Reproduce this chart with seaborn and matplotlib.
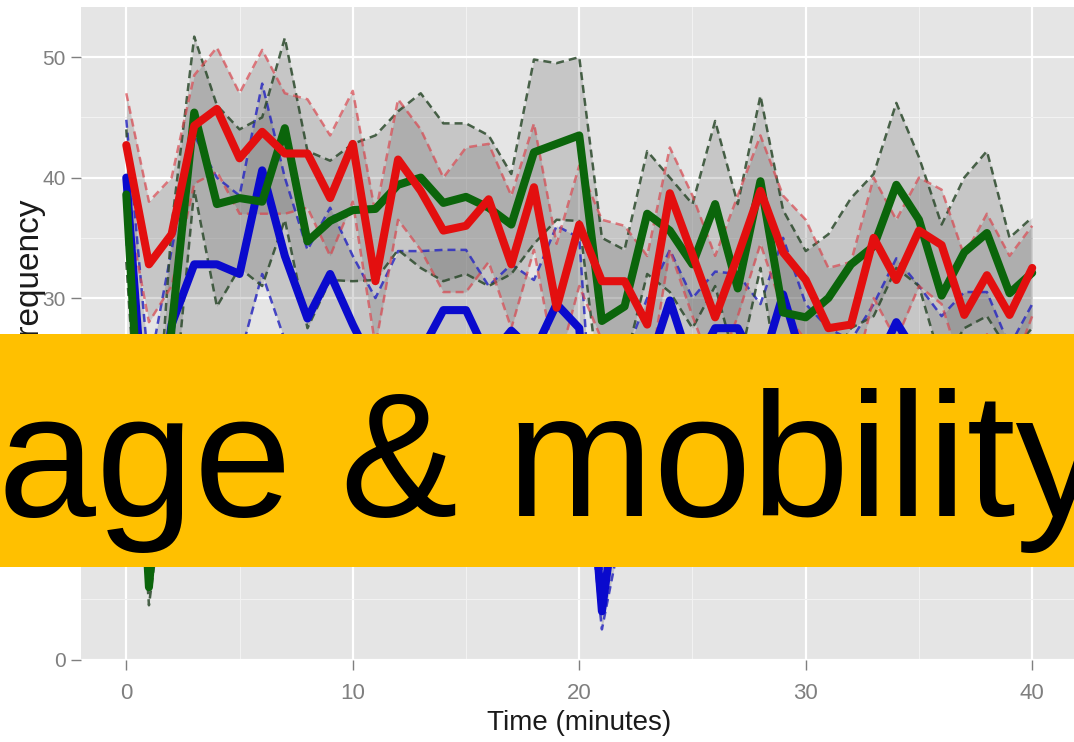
import matplotlib
matplotlib.use("Agg")
import matplotlib.pyplot as plt
import numpy as np
import pandas as pd
import seaborn as sns
from matplotlib.patches import Rectangle

# ---- data -------------------------------------------------------------
minutes = list(range(41))

blue_mean = [40.0, 15.0, 27.8, 32.8, 32.8, 32.0, 40.6, 33.5, 28.3, 32.0,
             27.8, 24.0, 23.0, 25.5, 29.0, 29.0, 25.0, 27.3, 25.5, 29.5,
             27.5, 4.0, 18.0, 24.0, 29.8, 24.0, 27.5, 27.5, 24.0, 30.3,
             24.0, 22.0, 21.0, 24.0, 28.0, 25.0, 23.0, 22.0, 24.0, 20.0,
             24.0]
blue_upper = [44.8, 24.0, 34.0, 43.5, 40.0, 38.5, 47.8, 40.0, 34.0, 37.5,
              33.5, 30.0, 33.9, 33.9, 34.0, 34.0, 31.0, 32.8, 31.5, 36.0,
              35.0, 7.5, 25.0, 30.0, 34.0, 30.0, 32.2, 32.0, 29.5, 35.0,
              29.5, 27.5, 26.5, 29.5, 33.3, 31.0, 28.5, 30.5, 30.5, 26.0,
              29.5]
blue_lower = [35.0, 8.0, 21.0, 23.0, 25.5, 25.0, 32.0, 26.5, 22.0, 26.0,
              21.5, 17.0, 17.0, 19.0, 23.5, 23.5, 19.0, 21.5, 19.5, 23.0,
              21.0, 2.5, 12.0, 18.0, 24.5, 18.0, 22.0, 22.0, 18.5, 24.5,
              18.5, 16.5, 16.0, 18.5, 22.5, 19.0, 17.5, 16.5, 18.5, 14.5,
              18.5]

green_mean = [38.6, 6.0, 27.5, 45.4, 37.8, 38.3, 38.0, 44.1, 34.7, 36.4,
              37.3, 37.4, 39.4, 40.0, 37.9, 38.4, 37.5, 36.1, 42.1, 42.8,
              43.5, 28.1, 29.3, 37.0, 35.6, 32.8, 37.8, 30.8, 39.7, 28.8,
              28.4, 30.0, 32.8, 34.3, 39.4, 36.5, 30.2, 33.8, 35.4, 30.4,
              32.1]
green_upper = [44.0, 9.0, 36.0, 51.7, 46.0, 44.0, 45.0, 51.6, 42.2, 41.4,
               42.8, 43.5, 45.5, 47.0, 44.5, 44.5, 43.5, 40.3, 49.8, 49.5,
               50.0, 35.0, 34.0, 42.2, 40.0, 37.8, 44.7, 37.8, 46.8, 37.3,
               33.9, 35.3, 38.3, 40.3, 46.2, 41.7, 36.1, 40.0, 42.2, 35.0,
               36.7]
green_lower = [33.0, 4.5, 19.0, 39.0, 29.3, 32.5, 31.0, 36.5, 27.5, 31.5,
               31.4, 31.5, 34.0, 32.5, 31.4, 32.0, 31.0, 32.0, 34.5, 36.5,
               36.4, 21.0, 24.5, 32.0, 30.5, 27.5, 31.0, 24.0, 32.5, 21.0,
               23.0, 24.5, 27.5, 28.5, 32.5, 31.0, 24.5, 27.5, 28.5, 25.5,
               27.5]

red_mean = [42.7, 32.8, 35.3, 44.3, 45.7, 41.6, 43.8, 42.0, 42.0, 38.3,
            42.8, 31.4, 41.5, 38.9, 35.6, 36.0, 38.2, 32.8, 39.2, 29.2,
            36.1, 31.4, 31.4, 27.8, 38.7, 33.6, 28.4, 33.5, 38.9, 33.8,
            31.5, 27.5, 27.8, 35.0, 31.5, 35.6, 34.4, 28.6, 31.9, 28.6,
            32.5]
red_upper = [47.0, 38.0, 40.0, 48.5, 50.8, 47.0, 50.6, 47.0, 46.5, 43.5,
             47.2, 37.0, 46.5, 44.0, 40.0, 42.5, 42.8, 38.5, 44.5, 34.5,
             41.0, 36.5, 36.0, 33.5, 42.5, 38.5, 33.5, 38.5, 43.5, 38.5,
             36.5, 32.5, 33.0, 40.0, 36.5, 40.0, 39.0, 33.5, 37.0, 33.5,
             36.0]
red_lower = [38.0, 28.0, 31.0, 39.5, 40.5, 37.0, 37.0, 37.0, 37.5, 33.5,
             38.0, 26.0, 36.5, 34.0, 30.5, 30.5, 33.0, 27.5, 34.0, 24.0,
             31.0, 26.5, 26.5, 22.5, 34.0, 28.5, 23.5, 28.5, 34.5, 29.0,
             26.5, 22.5, 22.5, 30.0, 26.5, 31.0, 29.5, 23.5, 27.0, 23.5,
             28.5]

groups = ["blue", "green", "red"]
line_colors = {"blue": "#0A0ACD", "green": "#0B650B", "red": "#E30F0F"}
dash_colors = {"blue": "#2B2BC0", "green": "#2C4A2C", "red": "#D9474F"}
dash_alpha = {"blue": 0.85, "green": 0.85, "red": 0.7}

series = {
    "blue": (blue_mean, blue_lower, blue_upper),
    "green": (green_mean, green_lower, green_upper),
    "red": (red_mean, red_lower, red_upper),
}

rows = []
for g in groups:
    mean, lower, upper = series[g]
    for kind, vals in (("mean", mean), ("lower", lower), ("upper", upper)):
        for t, v in zip(minutes, vals):
            rows.append({"minute": t, "group": g, "kind": kind, "value": v})
df = pd.DataFrame(rows)

# ---- style ------------------------------------------------------------
sns.set_style("darkgrid", {"axes.facecolor": "#E5E5E5",
                           "grid.color": "white"})
plt.rcParams["font.family"] = ["Liberation Sans", "DejaVu Sans"]

W, H = 1074, 742
fig = plt.figure(figsize=(W / 100, H / 100), dpi=100)
ax = fig.add_axes([81 / W, 1 - 659.5 / H, 996.5 / W, 652.5 / H])

# confidence ribbons
for g in groups:
    mean, lower, upper = series[g]
    ax.fill_between(minutes, lower, upper, color="#555555", alpha=0.21,
                    lw=0, zorder=2)

# dashed interval bounds
bounds = df[df["kind"] != "mean"]
for g in groups:
    sns.lineplot(data=bounds[bounds["group"] == g], x="minute", y="value",
                 units="kind", estimator=None, color=dash_colors[g],
                 lw=1.8, ls=(0, (3.2, 2.0)), alpha=dash_alpha[g], ax=ax,
                 legend=False, zorder=3)

# mean lines
means = df[df["kind"] == "mean"]
sns.lineplot(data=means, x="minute", y="value", hue="group",
             hue_order=groups, palette=line_colors, lw=5.8,
             estimator=None, legend=False, ax=ax, zorder=4)

# axis limits with 5% expansion around the data
all_vals = df["value"].to_numpy()
lo, hi = all_vals.min(), all_vals.max()
span = hi - lo
ax.set_xlim(-2, 42)
ax.set_ylim(lo - 0.05 * span, hi + 0.05 * span)

ax.set_xticks([0, 10, 20, 30, 40])
ax.set_yticks([0, 10, 20, 30, 40, 50])
ax.set_xticks([5, 15, 25, 35], minor=True)
ax.set_yticks([5, 15, 25, 35, 45], minor=True)
ax.grid(which="major", color="white", lw=1.6)
ax.grid(which="minor", color="#F2F2F2", lw=0.8)
ax.set_axisbelow(True)
for s in ax.spines.values():
    s.set_visible(False)

ax.tick_params(which="major", length=7, width=1.0, color="#7F7F7F",
               labelcolor="#7F7F7F", bottom=True, left=True)
ax.tick_params(axis="x", which="major", pad=10, labelsize=16)
ax.tick_params(axis="y", which="major", pad=4, labelsize=15)
ax.tick_params(which="minor", length=0)

ax.set_xlabel("Time (minutes)", fontsize=20, color="#1A1A1A", labelpad=4)
ax.set_ylabel("")
fig.text(28 / W, 1 - 197 / H, "Frequency", rotation=90, ha="center",
         va="top", fontsize=24, color="#1A1A1A")

# banner across the middle
fig.add_artist(Rectangle((0, 1 - 567 / H), 1, (567 - 334) / H,
                         transform=fig.transFigure, facecolor="#FFC000",
                         edgecolor="none", zorder=10))
fig.text(-2.5 / W, 1 - 516 / H, "age & mobility", fontsize=126.7,
         family="Liberation Sans", color="black", ha="left",
         va="baseline", zorder=11)

fig.savefig("out.png", dpi=100)
